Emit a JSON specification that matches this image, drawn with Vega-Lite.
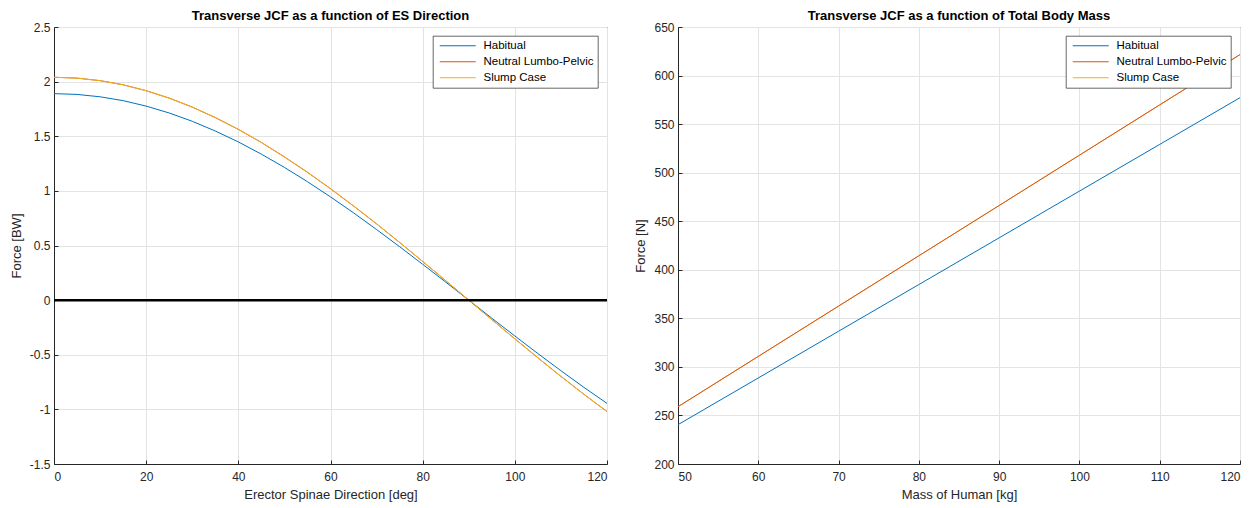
{
  "$schema": "https://vega.github.io/schema/vega-lite/v6.json",
  "padding": {"left": 9, "top": 9, "right": 0, "bottom": 0},
  "background": "white",
  "config": {
    "font": "Liberation Sans",
    "view": {"stroke": "#262626", "strokeWidth": 1},
    "axis": {
      "domainColor": "#262626",
      "tickColor": "#262626",
      "tickSize": -4,
      "labelPadding": 11,
      "labelColor": "#262626",
      "labelFontSize": 12,
      "labelFont": "Liberation Sans",
      "titleColor": "#262626",
      "titleFontSize": 13,
      "titleFontWeight": "normal",
      "titleFont": "Liberation Sans",
      "titlePadding": 6,
      "gridColor": "#e3e3e3",
      "gridWidth": 1
    },
    "axisY": {"labelPadding": 8},
    "title": {"fontSize": 13, "fontWeight": "bold", "color": "#000000", "offset": -2, "font": "Liberation Sans"},
    "legend": {
      "orient": "top-right",
      "offset": 9,
      "fillColor": "white",
      "strokeColor": "#262626",
      "strokeWidth": 0.7,
      "padding": 4,
      "symbolType": "M-1,0H11",
      "symbolSize": 36,
      "symbolStrokeWidth": 1,
      "labelOffset": 35,
      "labelFontSize": 11.5,
      "labelColor": "#000000",
      "labelFont": "Liberation Sans",
      "rowPadding": 3,
      "title": null
    }
  },
  "datasets": {
    "es": [
      {"angle": 0, "series": "Habitual", "force": 1.89},
      {"angle": 5, "series": "Habitual", "force": 1.883},
      {"angle": 10, "series": "Habitual", "force": 1.861},
      {"angle": 15, "series": "Habitual", "force": 1.826},
      {"angle": 20, "series": "Habitual", "force": 1.776},
      {"angle": 25, "series": "Habitual", "force": 1.713},
      {"angle": 30, "series": "Habitual", "force": 1.637},
      {"angle": 35, "series": "Habitual", "force": 1.548},
      {"angle": 40, "series": "Habitual", "force": 1.448},
      {"angle": 45, "series": "Habitual", "force": 1.336},
      {"angle": 50, "series": "Habitual", "force": 1.215},
      {"angle": 55, "series": "Habitual", "force": 1.084},
      {"angle": 60, "series": "Habitual", "force": 0.945},
      {"angle": 65, "series": "Habitual", "force": 0.799},
      {"angle": 70, "series": "Habitual", "force": 0.646},
      {"angle": 75, "series": "Habitual", "force": 0.489},
      {"angle": 80, "series": "Habitual", "force": 0.328},
      {"angle": 85, "series": "Habitual", "force": 0.165},
      {"angle": 90, "series": "Habitual", "force": 0},
      {"angle": 95, "series": "Habitual", "force": -0.165},
      {"angle": 100, "series": "Habitual", "force": -0.328},
      {"angle": 105, "series": "Habitual", "force": -0.489},
      {"angle": 110, "series": "Habitual", "force": -0.646},
      {"angle": 115, "series": "Habitual", "force": -0.799},
      {"angle": 120, "series": "Habitual", "force": -0.945},
      {"angle": 0, "series": "Neutral Lumbo-Pelvic", "force": 2.04},
      {"angle": 5, "series": "Neutral Lumbo-Pelvic", "force": 2.032},
      {"angle": 10, "series": "Neutral Lumbo-Pelvic", "force": 2.009},
      {"angle": 15, "series": "Neutral Lumbo-Pelvic", "force": 1.971},
      {"angle": 20, "series": "Neutral Lumbo-Pelvic", "force": 1.917},
      {"angle": 25, "series": "Neutral Lumbo-Pelvic", "force": 1.849},
      {"angle": 30, "series": "Neutral Lumbo-Pelvic", "force": 1.767},
      {"angle": 35, "series": "Neutral Lumbo-Pelvic", "force": 1.671},
      {"angle": 40, "series": "Neutral Lumbo-Pelvic", "force": 1.563},
      {"angle": 45, "series": "Neutral Lumbo-Pelvic", "force": 1.443},
      {"angle": 50, "series": "Neutral Lumbo-Pelvic", "force": 1.311},
      {"angle": 55, "series": "Neutral Lumbo-Pelvic", "force": 1.17},
      {"angle": 60, "series": "Neutral Lumbo-Pelvic", "force": 1.02},
      {"angle": 65, "series": "Neutral Lumbo-Pelvic", "force": 0.862},
      {"angle": 70, "series": "Neutral Lumbo-Pelvic", "force": 0.698},
      {"angle": 75, "series": "Neutral Lumbo-Pelvic", "force": 0.528},
      {"angle": 80, "series": "Neutral Lumbo-Pelvic", "force": 0.354},
      {"angle": 85, "series": "Neutral Lumbo-Pelvic", "force": 0.178},
      {"angle": 90, "series": "Neutral Lumbo-Pelvic", "force": 0},
      {"angle": 95, "series": "Neutral Lumbo-Pelvic", "force": -0.178},
      {"angle": 100, "series": "Neutral Lumbo-Pelvic", "force": -0.354},
      {"angle": 105, "series": "Neutral Lumbo-Pelvic", "force": -0.528},
      {"angle": 110, "series": "Neutral Lumbo-Pelvic", "force": -0.698},
      {"angle": 115, "series": "Neutral Lumbo-Pelvic", "force": -0.862},
      {"angle": 120, "series": "Neutral Lumbo-Pelvic", "force": -1.02},
      {"angle": 0, "series": "Slump Case", "force": 2.04},
      {"angle": 5, "series": "Slump Case", "force": 2.032},
      {"angle": 10, "series": "Slump Case", "force": 2.009},
      {"angle": 15, "series": "Slump Case", "force": 1.971},
      {"angle": 20, "series": "Slump Case", "force": 1.917},
      {"angle": 25, "series": "Slump Case", "force": 1.849},
      {"angle": 30, "series": "Slump Case", "force": 1.767},
      {"angle": 35, "series": "Slump Case", "force": 1.671},
      {"angle": 40, "series": "Slump Case", "force": 1.563},
      {"angle": 45, "series": "Slump Case", "force": 1.443},
      {"angle": 50, "series": "Slump Case", "force": 1.311},
      {"angle": 55, "series": "Slump Case", "force": 1.17},
      {"angle": 60, "series": "Slump Case", "force": 1.02},
      {"angle": 65, "series": "Slump Case", "force": 0.862},
      {"angle": 70, "series": "Slump Case", "force": 0.698},
      {"angle": 75, "series": "Slump Case", "force": 0.528},
      {"angle": 80, "series": "Slump Case", "force": 0.354},
      {"angle": 85, "series": "Slump Case", "force": 0.178},
      {"angle": 90, "series": "Slump Case", "force": 0},
      {"angle": 95, "series": "Slump Case", "force": -0.178},
      {"angle": 100, "series": "Slump Case", "force": -0.354},
      {"angle": 105, "series": "Slump Case", "force": -0.528},
      {"angle": 110, "series": "Slump Case", "force": -0.698},
      {"angle": 115, "series": "Slump Case", "force": -0.862},
      {"angle": 120, "series": "Slump Case", "force": -1.02}
    ],
    "mass": [
      {"mass": 50, "series": "Habitual", "force": 240.5},
      {"mass": 60, "series": "Habitual", "force": 288.6},
      {"mass": 70, "series": "Habitual", "force": 336.7},
      {"mass": 80, "series": "Habitual", "force": 384.8},
      {"mass": 90, "series": "Habitual", "force": 432.9},
      {"mass": 100, "series": "Habitual", "force": 481.0},
      {"mass": 110, "series": "Habitual", "force": 529.1},
      {"mass": 120, "series": "Habitual", "force": 577.2},
      {"mass": 50, "series": "Slump Case", "force": 259.0},
      {"mass": 60, "series": "Slump Case", "force": 310.8},
      {"mass": 70, "series": "Slump Case", "force": 362.6},
      {"mass": 80, "series": "Slump Case", "force": 414.4},
      {"mass": 90, "series": "Slump Case", "force": 466.2},
      {"mass": 100, "series": "Slump Case", "force": 518.0},
      {"mass": 110, "series": "Slump Case", "force": 569.8},
      {"mass": 120, "series": "Slump Case", "force": 621.6},
      {"mass": 50, "series": "Neutral Lumbo-Pelvic", "force": 259.0},
      {"mass": 60, "series": "Neutral Lumbo-Pelvic", "force": 310.8},
      {"mass": 70, "series": "Neutral Lumbo-Pelvic", "force": 362.6},
      {"mass": 80, "series": "Neutral Lumbo-Pelvic", "force": 414.4},
      {"mass": 90, "series": "Neutral Lumbo-Pelvic", "force": 466.2},
      {"mass": 100, "series": "Neutral Lumbo-Pelvic", "force": 518.0},
      {"mass": 110, "series": "Neutral Lumbo-Pelvic", "force": 569.8},
      {"mass": 120, "series": "Neutral Lumbo-Pelvic", "force": 621.6}
    ]
  },
  "hconcat": [
    {
      "width": 553,
      "height": 437,
      "title": "Transverse JCF as a function of ES Direction",
      "layer": [
        {
          "data": {"name": "es"},
          "mark": {"type": "line", "strokeWidth": 1, "clip": true},
          "encoding": {
            "x": {"field": "angle", "type": "quantitative", "scale": {"domain": [0, 120], "nice": false}, "axis": {"title": "Erector Spinae Direction [deg]", "values": [0, 20, 40, 60, 80, 100, 120], "labelExpr": "'' + datum.value"}},
            "y": {"field": "force", "type": "quantitative", "scale": {"domain": [-1.5, 2.5], "nice": false, "zero": false}, "axis": {"title": "Force [BW]", "values": [-1.5, -1, -0.5, 0, 0.5, 1, 1.5, 2, 2.5], "labelExpr": "'' + datum.value"}},
            "color": {"field": "series", "type": "nominal", "scale": {"domain": ["Habitual", "Neutral Lumbo-Pelvic", "Slump Case"], "range": ["#0072BD", "#D95319", "#EDB120"]}, "legend": {}}
          }
        },
        {
          "data": {"values": [{"zero": 0}]},
          "mark": {"type": "rule", "color": "#000000", "strokeWidth": 2.5},
          "encoding": {"y": {"field": "zero", "type": "quantitative"}}
        }
      ]
    },
    {
      "width": 562,
      "height": 437,
      "title": "Transverse JCF as a function of Total Body Mass",
      "data": {"name": "mass"},
      "mark": {"type": "line", "strokeWidth": 1, "clip": true},
      "encoding": {
        "x": {"field": "mass", "type": "quantitative", "scale": {"domain": [50, 120], "nice": false, "zero": false}, "axis": {"title": "Mass of Human [kg]", "values": [50, 60, 70, 80, 90, 100, 110, 120], "labelExpr": "'' + datum.value"}},
        "y": {"field": "force", "type": "quantitative", "scale": {"domain": [200, 650], "nice": false, "zero": false}, "axis": {"title": "Force [N]", "values": [200, 250, 300, 350, 400, 450, 500, 550, 600, 650], "labelExpr": "'' + datum.value"}},
        "color": {"field": "series", "type": "nominal", "scale": {"domain": ["Habitual", "Neutral Lumbo-Pelvic", "Slump Case"], "range": ["#0072BD", "#D95319", "#EDB120"]}, "legend": {}}
      }
    }
  ],
  "spacing": 25,
  "resolve": {"legend": {"color": "independent"}, "scale": {"color": "independent", "x": "independent", "y": "independent"}}
}
